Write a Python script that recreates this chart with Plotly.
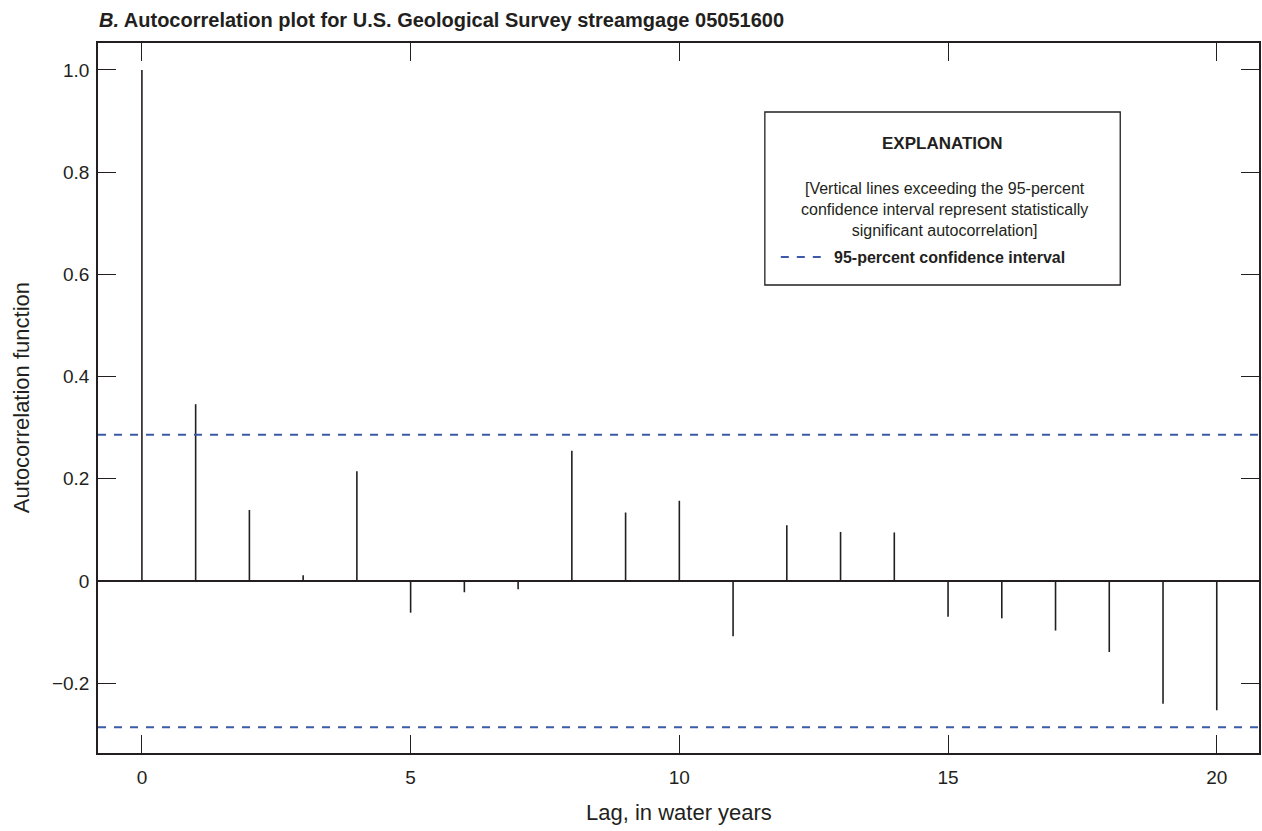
import plotly.graph_objects as go

# Autocorrelation values by lag (water years)
lags = list(range(21))
acf = [1.0, 0.346, 0.139, 0.011, 0.215, -0.062, -0.022, -0.016, 0.255, 0.134,
       0.157, -0.108, 0.109, 0.096, 0.095, -0.070, -0.073, -0.097, -0.139, -0.240,
       -0.253]
conf_limit = 0.286

x_ticks = [0, 5, 10, 15, 20]
y_ticks = [-0.2, 0, 0.2, 0.4, 0.6, 0.8, 1.0]
y_ticktext = ["\u22120.2", "0", "0.2", "0.4", "0.6", "0.8", "1.0"]

x_range = [-0.817, 20.786]
y_range = [-0.3366, 1.0528]

FONT = "Liberation Sans, Arial, sans-serif"
INK = "#231f20"
BLUE = "#3d5aa8"
DASH = "8px,8px"

# figure geometry in pixels (plot area edges)
W, H = 1262, 831
L, R, T, B = 98, 1261, 43, 753


def px(x):
    return (x - L) / (R - L)


def py(y):
    return (B - y) / (B - T)


# vertical stems from zero to each autocorrelation value
stem_x, stem_y = [], []
for lag, v in zip(lags, acf):
    stem_x += [lag, lag, None]
    stem_y += [0, v, None]

fig = go.Figure()
fig.add_trace(go.Scatter(x=stem_x, y=stem_y, mode="lines",
                         line=dict(color=INK, width=1.6),
                         showlegend=False, hoverinfo="skip"))
for lim in (conf_limit, -conf_limit):
    fig.add_trace(go.Scatter(x=x_range, y=[lim, lim], mode="lines",
                             line=dict(color=BLUE, width=2, dash=DASH),
                             showlegend=False, hoverinfo="skip"))

axis_common = dict(showline=True, linecolor=INK, linewidth=1.5, mirror="ticks",
                   ticks="inside", ticklen=18, tickwidth=1.3, tickcolor=INK,
                   showgrid=False, tickfont=dict(family=FONT, size=19, color=INK))

fig.update_xaxes(range=x_range, tickvals=x_ticks, zeroline=False,
                 ticklabelstandoff=6, **axis_common)
fig.update_yaxes(range=y_range, tickvals=y_ticks, ticktext=y_ticktext,
                 zeroline=True, zerolinecolor=INK, zerolinewidth=1.5,
                 ticklabelstandoff=3, **axis_common)

annotations = [
    dict(text="<b><i>B.</i> Autocorrelation plot for U.S. Geological Survey streamgage 05051600</b>",
         x=px(97), y=py(20), xanchor="left", yanchor="middle",
         font=dict(size=20, color=INK)),
    dict(text="Autocorrelation function", x=px(21), y=py(398), textangle=-90,
         xanchor="center", yanchor="middle", font=dict(size=22, color=INK)),
    dict(text="Lag, in water years", x=0.5, y=py(812),
         xanchor="center", yanchor="middle", font=dict(size=22, color=INK)),
    dict(text="<b>EXPLANATION</b>", x=px(944), y=py(143),
         xanchor="center", yanchor="middle", font=dict(size=17, color=INK)),
    dict(text="[Vertical lines exceeding the 95-percent<br>"
              "confidence interval represent statistically<br>"
              "significant autocorrelation]",
         x=px(946), y=py(209), xanchor="center", yanchor="middle", align="center",
         font=dict(size=16, color=INK)),
    dict(text="<b>95-percent confidence interval</b>", x=px(833), y=py(257),
         xanchor="left", yanchor="middle", font=dict(size=16, color=INK)),
]
for a in annotations:
    a.update(xref="paper", yref="paper", showarrow=False)
    a["font"].setdefault("family", FONT)

fig.update_layout(
    width=W, height=H,
    margin=dict(l=L, r=W - R, t=T, b=H - B, pad=0),
    paper_bgcolor="white", plot_bgcolor="white",
    font=dict(family=FONT, color=INK),
    showlegend=False,
    annotations=annotations,
    shapes=[
        dict(type="rect", xref="paper", yref="paper",
             x0=px(766), x1=px(1122), y0=py(112), y1=py(285),
             line=dict(color=INK, width=1.3), fillcolor="rgba(0,0,0,0)"),
        # key sample for the confidence-interval lines
        dict(type="line", xref="paper", yref="paper",
             x0=px(782), x1=px(822), y0=py(257), y1=py(257),
             line=dict(color=BLUE, width=2, dash=DASH)),
    ],
)

fig.write_html("out.html")
